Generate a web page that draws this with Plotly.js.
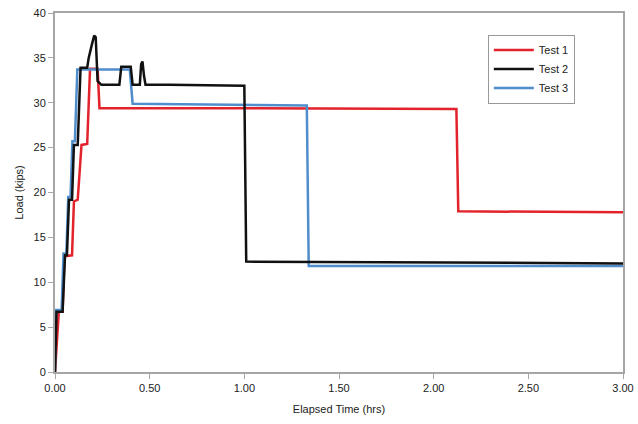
<!DOCTYPE html>
<html>
<head>
<meta charset="utf-8">
<script src="https://cdn.plot.ly/plotly-3.0.1.min.js"></script>
<style>html,body{margin:0;padding:0;background:#fff;}#chart{width:638px;height:424px;}</style>
</head>
<body>
<div id="chart"></div>
<script>
// Test 1 (red)
var test1Time = [0, 0.01, 0.02, 0.04, 0.05, 0.09, 0.10, 0.12, 0.14, 0.17, 0.185, 0.225, 0.235, 1.0, 2.12, 2.13, 3.0];
var test1Load = [0, 3.0, 6.7, 6.7, 12.9, 13.0, 19.0, 19.2, 25.3, 25.4, 33.8, 33.8, 29.4, 29.4, 29.3, 17.9, 17.8];
// Test 2 (black)
var test2Time = [0, 0.008, 0.04, 0.053, 0.063, 0.074, 0.09, 0.10, 0.12, 0.135, 0.17, 0.178, 0.195, 0.207, 0.215, 0.225, 0.245, 0.34, 0.35, 0.40, 0.41, 0.448, 0.455, 0.462, 0.47, 0.478, 0.6, 1.0, 1.01, 2.0, 3.0];
var test2Load = [0, 6.7, 6.7, 13.0, 13.0, 19.2, 19.2, 25.3, 25.3, 33.9, 33.9, 35.0, 36.5, 37.5, 37.3, 32.4, 32.0, 32.0, 34.0, 34.0, 32.0, 32.0, 34.3, 34.6, 33.0, 32.0, 32.0, 31.9, 12.3, 12.2, 12.1];
// Test 3 (blue)
var test3Time = [0, 0.005, 0.035, 0.045, 0.06, 0.07, 0.082, 0.092, 0.105, 0.118, 0.2, 0.395, 0.41, 0.8, 1.33, 1.34, 2.0, 3.0];
var test3Load = [0, 6.9, 6.9, 13.2, 13.2, 19.5, 19.5, 25.7, 25.7, 33.7, 33.7, 33.7, 29.9, 29.8, 29.7, 11.8, 11.8, 11.8];

var xTicks = [0, 0.5, 1.0, 1.5, 2.0, 2.5, 3.0];
var xTickText = ["0.00", "0.50", "1.00", "1.50", "2.00", "2.50", "3.00"];
var yTicks = [0, 5, 10, 15, 20, 25, 30, 35, 40];

var traces = [
  {x: test1Time, y: test1Load, name: "Test 1", mode: "lines", legendrank: 1,
   line: {color: "#e3232c", width: 2.5}},
  {x: test3Time, y: test3Load, name: "Test 3", mode: "lines", legendrank: 3,
   line: {color: "#4f8dcc", width: 2.5}},
  {x: test2Time, y: test2Load, name: "Test 2", mode: "lines", legendrank: 2,
   line: {color: "#111111", width: 2.5}}
];

var axisFont = {family: "Liberation Sans, Arial, sans-serif", size: 11, color: "#222"};

var layout = {
  width: 638, height: 424,
  margin: {l: 55, r: 15, t: 13, b: 52},
  paper_bgcolor: "#fff", plot_bgcolor: "#fff",
  showlegend: true,
  legend: {
    x: 0.762, y: 0.94, xanchor: "left", yanchor: "top",
    bordercolor: "#999", borderwidth: 1, bgcolor: "#fff",
    font: {family: "Liberation Sans, Arial, sans-serif", size: 11, color: "#222"},
    itemwidth: 40, tracegroupgap: 0
  },
  xaxis: {
    range: [0, 3], tickvals: xTicks, ticktext: xTickText,
    showgrid: false, zeroline: false,
    showline: true, linecolor: "#a6a6a6", linewidth: 2, mirror: true,
    ticks: "outside", ticklen: 5, tickcolor: "#a6a6a6", tickwidth: 1,
    tickfont: axisFont,
    title: {text: "Elapsed Time (hrs)", font: axisFont, standoff: 12}
  },
  yaxis: {
    range: [0, 40], tickvals: yTicks,
    showgrid: false, zeroline: false,
    showline: true, linecolor: "#a6a6a6", linewidth: 2, mirror: true,
    ticks: "outside", ticklen: 5, tickcolor: "#a6a6a6", tickwidth: 1,
    tickfont: axisFont,
    title: {text: "Load (kips)", font: axisFont, standoff: 8}
  }
};

Plotly.newPlot("chart", traces, layout, {displayModeBar: false, staticPlot: true});
</script>
</body>
</html>
